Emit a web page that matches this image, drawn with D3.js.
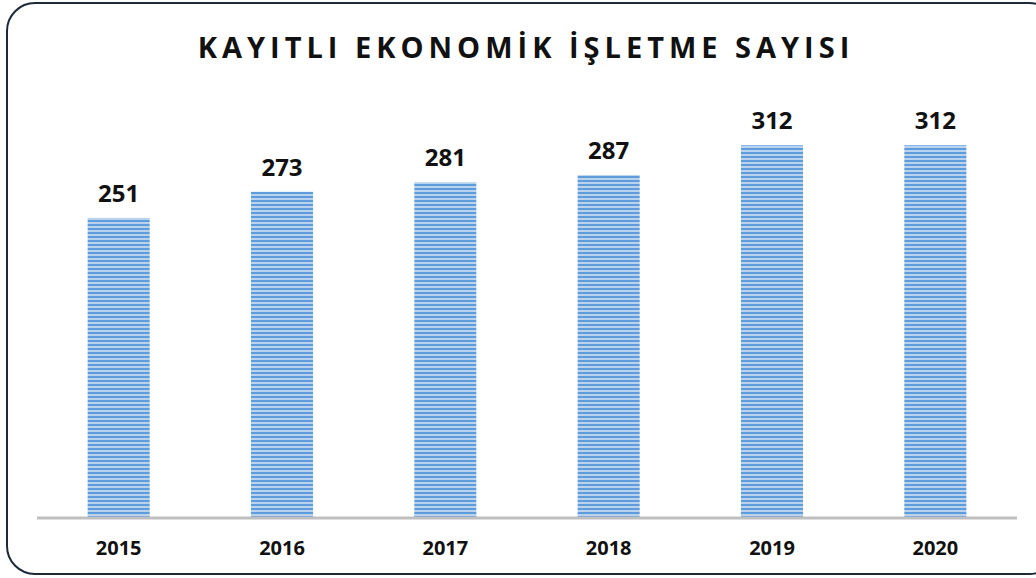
<!DOCTYPE html>
<html><head><meta charset="utf-8">
<script src="https://cdn.jsdelivr.net/npm/d3@7/dist/d3.min.js"></script>
<style>html,body{margin:0;padding:0;background:#fff;}svg{display:block;}</style>
</head><body>
<script>
const title = "KAYITLI EKONOMİK İŞLETME SAYISI";
const years = ["2015","2016","2017","2018","2019","2020"];
const values = [251, 273, 281, 287, 312, 312];

const W = 1036, H = 578;
const svg = d3.select("body").append("svg").attr("width", W).attr("height", H);

const defs = svg.append("defs");
const pat = defs.append("pattern").attr("id","stripes").attr("patternUnits","userSpaceOnUse")
  .attr("width", 8).attr("height", 4);
pat.append("rect").attr("width",8).attr("height",4).attr("fill","#b9d3ef");
pat.append("rect").attr("y",0).attr("width",8).attr("height",2).attr("fill","#5f9cdb");

svg.append("rect").attr("x",7).attr("y",3).attr("width",1050).attr("height",571)
  .attr("rx",28).attr("ry",28).attr("fill","#fff").attr("stroke","#1e2938").attr("stroke-width",2);

const x = d3.scaleBand().domain(years).range([37, 1017]).paddingInner(0.62).paddingOuter(0.31);
const y = d3.scaleLinear().domain([0, 350]).range([517, 100]);

svg.append("text").attr("x", 526).attr("y", 58).attr("text-anchor","middle")
  .attr("font-family","Open Sans, sans-serif").attr("font-weight","bold").attr("font-size",29)
  .attr("letter-spacing", 5).attr("fill","#111").text(title);

svg.selectAll(".bar").data(values).enter().append("rect")
  .attr("x",(d,i)=>x(years[i])).attr("width",x.bandwidth())
  .attr("y",d=>y(d)).attr("height",d=>y(0)-y(d)).attr("fill","url(#stripes)");

svg.append("line").attr("x1",37).attr("x2",1017).attr("y1",y(0)+1).attr("y2",y(0)+1)
  .attr("stroke","#bfbfbf").attr("stroke-width",3);

svg.selectAll(".val").data(values).enter().append("text")
  .attr("x",(d,i)=>x(years[i])+x.bandwidth()/2).attr("y",d=>y(d)-16)
  .attr("text-anchor","middle").attr("font-family","Open Sans, sans-serif").attr("font-weight","bold")
  .attr("font-size",24).attr("fill","#111").text(d=>d);

const xAxis = d3.axisBottom(x).tickSize(0).tickPadding(0);
const ax = svg.append("g").attr("transform",`translate(0,${y(0)})`).call(xAxis);
ax.select(".domain").remove();
ax.selectAll("text").attr("y",38).attr("dy",0).attr("font-family","Open Sans, sans-serif").attr("font-weight","bold")
  .attr("font-size",20).attr("fill","#111");
</script>
</body></html>
